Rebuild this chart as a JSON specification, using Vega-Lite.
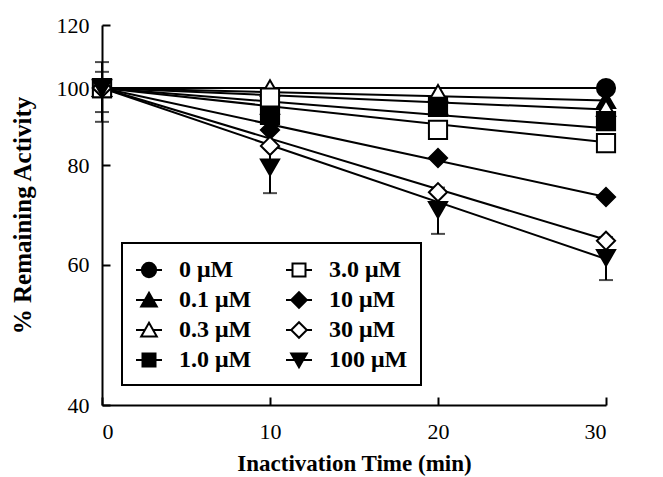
{
  "$schema": "https://vega.github.io/schema/vega-lite/v6.json",
  "width": 504,
  "height": 380,
  "autosize": {"type": "none"},
  "padding": {"left": 102, "top": 25, "right": 57, "bottom": 72},
  "background": "white",
  "config": {
    "view": {"stroke": null},
    "font": "Liberation Serif",
    "legend": {"strokeWidth": 2},
    "axis": {
      "grid": false,
      "domainColor": "black",
      "domainWidth": 2,
      "tickColor": "black",
      "tickWidth": 2,
      "tickSize": -8,
      "labelFont": "Liberation Serif",
      "labelFontSize": 22,
      "labelColor": "black",
      "titleFont": "Liberation Serif",
      "titleFontSize": 23,
      "titleFontWeight": "bold",
      "titleColor": "black"
    }
  },
  "datasets": {
    "points": [
      {"series": "0 μM", "time": 0, "value": 100},
      {"series": "0.1 μM", "time": 0, "value": 100},
      {"series": "0.3 μM", "time": 0, "value": 100},
      {"series": "1.0 μM", "time": 0, "value": 100},
      {"series": "3.0 μM", "time": 0, "value": 100},
      {"series": "10 μM", "time": 0, "value": 100},
      {"series": "30 μM", "time": 0, "value": 100},
      {"series": "100 μM", "time": 0, "value": 100},
      {"series": "0 μM", "time": 10, "value": 97.3},
      {"series": "0.1 μM", "time": 10, "value": 95},
      {"series": "0.3 μM", "time": 10, "value": 100},
      {"series": "1.0 μM", "time": 10, "value": 92.5},
      {"series": "3.0 μM", "time": 10, "value": 97.3},
      {"series": "10 μM", "time": 10, "value": 88.6},
      {"series": "30 μM", "time": 10, "value": 84.6},
      {"series": "100 μM", "time": 10, "value": 79.5},
      {"series": "0 μM", "time": 20, "value": 95.5},
      {"series": "0.1 μM", "time": 20, "value": 95},
      {"series": "0.3 μM", "time": 20, "value": 98.6},
      {"series": "1.0 μM", "time": 20, "value": 94.7},
      {"series": "3.0 μM", "time": 20, "value": 88.6},
      {"series": "10 μM", "time": 20, "value": 81.7},
      {"series": "30 μM", "time": 20, "value": 74.0},
      {"series": "100 μM", "time": 20, "value": 70.3},
      {"series": "0 μM", "time": 30, "value": 100},
      {"series": "0.1 μM", "time": 30, "value": 96.6},
      {"series": "0.3 μM", "time": 30, "value": 94.4},
      {"series": "1.0 μM", "time": 30, "value": 90.9},
      {"series": "3.0 μM", "time": 30, "value": 85.3},
      {"series": "10 μM", "time": 30, "value": 73.0},
      {"series": "30 μM", "time": 30, "value": 64.3},
      {"series": "100 μM", "time": 30, "value": 61.2}
    ],
    "fits": [
      {"series": "0 μM", "time": 0, "value": 100},
      {"series": "0 μM", "time": 30, "value": 100},
      {"series": "0.1 μM", "time": 0, "value": 100},
      {"series": "0.1 μM", "time": 30, "value": 96.5},
      {"series": "0.3 μM", "time": 0, "value": 100},
      {"series": "0.3 μM", "time": 30, "value": 94},
      {"series": "1.0 μM", "time": 0, "value": 100},
      {"series": "1.0 μM", "time": 30, "value": 89},
      {"series": "3.0 μM", "time": 0, "value": 100},
      {"series": "3.0 μM", "time": 30, "value": 85.5},
      {"series": "10 μM", "time": 0, "value": 100},
      {"series": "10 μM", "time": 30, "value": 73},
      {"series": "30 μM", "time": 0, "value": 100},
      {"series": "30 μM", "time": 30, "value": 64.5},
      {"series": "100 μM", "time": 0, "value": 100},
      {"series": "100 μM", "time": 30, "value": 61}
    ],
    "errors": [
      {"series": "100 μM", "time": 0, "lo": 90.7, "hi": 107.8},
      {"series": "30 μM", "time": 0, "lo": 93.3, "hi": 104.8},
      {"series": "100 μM", "time": 10, "lo": 73.8, "hi": 85.2},
      {"series": "100 μM", "time": 20, "lo": 65.6, "hi": 75.0},
      {"series": "100 μM", "time": 30, "lo": 57.4, "hi": 65.0}
    ]
  },
  "encoding": {
    "x": {
      "field": "time",
      "type": "quantitative",
      "scale": {"domain": [0, 30], "nice": false},
      "axis": {"values": [0, 10, 20, 30], "title": "Inactivation Time (min)", "labelPadding": 24, "titlePadding": 10}
    }
  },
  "layer": [
    {
      "data": {"name": "fits"},
      "mark": {"type": "line", "color": "black", "strokeWidth": 2},
      "encoding": {
        "y": {
          "field": "value",
          "type": "quantitative",
          "scale": {"type": "log", "domain": [40, 120], "nice": false},
          "axis": {"values": [40, 60, 80, 100, 120], "title": "% Remaining Activity", "labelPadding": 21, "titlePadding": 21, "titleFontSize": 25}
        },
        "detail": {"field": "series"}
      }
    },
    {
      "data": {"name": "errors"},
      "mark": {"type": "rule", "color": "black", "strokeWidth": 2},
      "encoding": {
        "y": {"field": "lo", "type": "quantitative"},
        "y2": {"field": "hi"}
      }
    },
    {
      "data": {"name": "errors"},
      "mark": {"type": "tick", "orient": "horizontal", "color": "black", "thickness": 2, "size": 14},
      "encoding": {"y": {"field": "lo", "type": "quantitative"}}
    },
    {
      "data": {"name": "errors"},
      "mark": {"type": "tick", "orient": "horizontal", "color": "black", "thickness": 2, "size": 14},
      "encoding": {"y": {"field": "hi", "type": "quantitative"}}
    },
    {
      "data": {"name": "points"},
      "mark": {"type": "point", "filled": false, "stroke": "black", "strokeWidth": 2, "size": 330, "opacity": 1},
      "encoding": {
        "y": {"field": "value", "type": "quantitative"},
        "shape": {
          "field": "series",
          "scale": {
            "domain": ["0 μM", "0.1 μM", "0.3 μM", "1.0 μM", "3.0 μM", "10 μM", "30 μM", "100 μM"],
            "range": ["circle", "triangle-up", "triangle-up", "square", "square", "diamond", "diamond", "triangle-down"]
          },
          "legend": null
        },
        "fill": {
          "field": "series",
          "scale": {
            "domain": ["0 μM", "0.1 μM", "0.3 μM", "1.0 μM", "3.0 μM", "10 μM", "30 μM", "100 μM"],
            "range": ["black", "black", "white", "black", "white", "black", "white", "black"]
          },
          "legend": null
        }
      }
    },
    {
      "data": {"name": "points"},
      "transform": [{"filter": "datum.time < 0"}],
      "mark": {"type": "point", "filled": false, "strokeWidth": 2, "opacity": 1},
      "encoding": {
        "y": {"field": "value", "type": "quantitative"},
        "shape": {
          "field": "series",
          "scale": {
            "domain": ["0 μM", "0.1 μM", "0.3 μM", "1.0 μM", "3.0 μM", "10 μM", "30 μM", "100 μM"],
            "range": [
              "M-1,0H1M-0.55,0A0.55,0.55 0 1,0 0.55,0A0.55,0.55 0 1,0 -0.55,0Z",
              "M-1,0H1M0,-0.55L0.6,0.5H-0.6Z",
              "M-1,0H-0.31M0.31,0H1M0,-0.55L0.6,0.5H-0.6Z",
              "M-1,0H1M-0.5,-0.5H0.5V0.5H-0.5Z",
              "M-1,0H-0.5M0.5,0H1M-0.5,-0.5H0.5V0.5H-0.5Z",
              "M-1,0H1M0,-0.6L0.6,0L0,0.6L-0.6,0Z",
              "M-1,0H-0.6M0.6,0H1M0,-0.6L0.6,0L0,0.6L-0.6,0Z",
              "M-1,0H1M0,0.55L0.6,-0.5H-0.6Z"
            ]
          },
          "legend": {
            "title": null,
            "orient": "bottom-left",
            "offset": 20,
            "columns": 2,
            "direction": "vertical",
            "symbolSize": 676,
            "symbolStrokeWidth": 2,
            "labelFont": "Liberation Serif",
            "labelFontSize": 24,
            "labelFontWeight": "bold",
            "labelColor": "black",
            "labelOffset": 16,
            "rowPadding": 4,
            "columnPadding": 30,
            "padding": 13,
            "strokeColor": "black",
            "fillColor": "white"
          }
        },
        "fill": {
          "field": "series",
          "scale": {
            "domain": ["0 μM", "0.1 μM", "0.3 μM", "1.0 μM", "3.0 μM", "10 μM", "30 μM", "100 μM"],
            "range": ["black", "black", "white", "black", "white", "black", "white", "black"]
          }
        },
        "stroke": {
          "field": "series",
          "scale": {
            "domain": ["0 μM", "0.1 μM", "0.3 μM", "1.0 μM", "3.0 μM", "10 μM", "30 μM", "100 μM"],
            "range": ["black", "black", "black", "black", "black", "black", "black", "black"]
          }
        }
      }
    }
  ],
  "resolve": {"scale": {"shape": "independent", "fill": "independent", "stroke": "independent"}}
}
